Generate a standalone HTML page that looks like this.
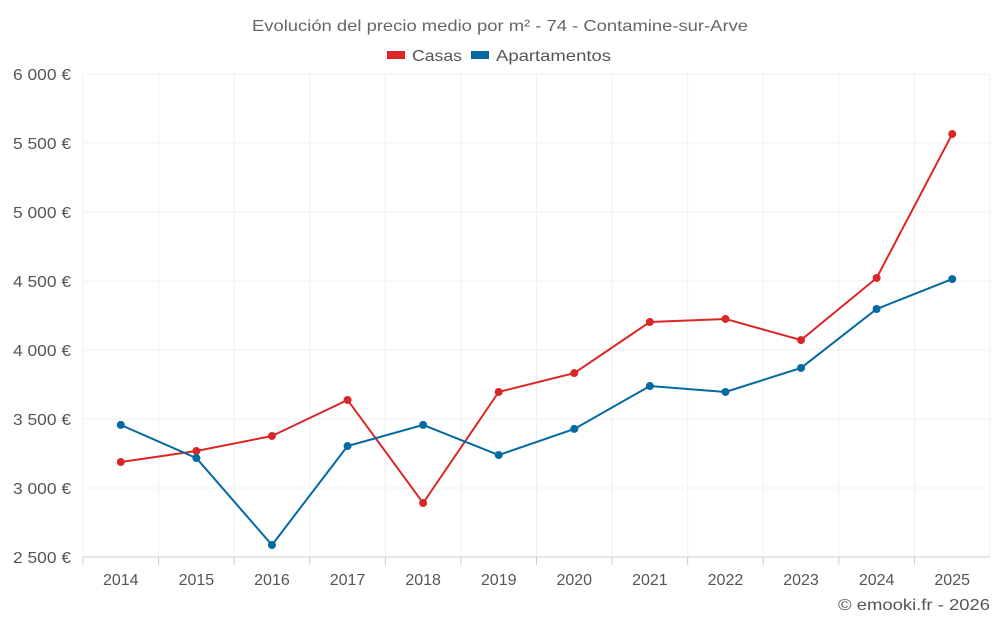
<!DOCTYPE html>
<html><head><meta charset="utf-8"><style>
html,body{margin:0;padding:0;background:#fff;}
svg{display:block;font-family:"Liberation Sans",sans-serif;}
</style></head><body>
<svg id="chart" width="1000" height="625">
<text x="252" y="31" textLength="496" lengthAdjust="spacingAndGlyphs" font-size="16" fill="#666">Evolución del precio medio por m² - 74 - Contamine-sur-Arve</text>
<g>
<g><rect x="387" y="51" width="18" height="8" fill="#dc2626"/><text x="412" y="61" textLength="50" lengthAdjust="spacingAndGlyphs" font-size="16" fill="#555">Casas</text></g>
<g><rect x="471" y="51" width="18" height="8" fill="#0369a1"/><text x="496" y="61" textLength="115" lengthAdjust="spacingAndGlyphs" font-size="16" fill="#555">Apartamentos</text></g>
</g>
<g id="grid"></g><g id="axes"></g><g id="series"></g>
<text x="838" y="610" textLength="152" lengthAdjust="spacingAndGlyphs" font-size="16" fill="#555">© emooki.fr - 2026</text>
</svg>
<script>
const years=[2014,2015,2016,2017,2018,2019,2020,2021,2022,2023,2024,2025];
const casas=[3188,3268,3377,3638,2891,3696,3833,4203,4225,4072,4522,5565];
const apartamentos=[3457,3217,2587,3304,3457,3239,3428,3739,3696,3870,4297,4514];
const yTicks=[2500,3000,3500,4000,4500,5000,5500,6000];
const yTickLabels=["2 500 €","3 000 €","3 500 €","4 000 €","4 500 €","5 000 €","5 500 €","6 000 €"];
const L=83,R=990,T=74,B=557,yMin=2500,yMax=6000;
const bw=(R-L)/years.length;
const x=i=>L+bw*(i+0.5);
const y=v=>B-(v-yMin)/(yMax-yMin)*(B-T);
const NS="http://www.w3.org/2000/svg";
function mk(tag,attrs,parent){const e=document.createElementNS(NS,tag);for(const k in attrs)e.setAttribute(k,attrs[k]);parent.appendChild(e);return e;}
const grid=document.getElementById('grid'),axes=document.getElementById('axes'),series=document.getElementById('series');
yTicks.forEach((v,i)=>{
 const l=mk('line',{x1:L,x2:R,y1:y(v),y2:y(v),stroke:'#f0f0f0'},grid);
 
 
 const t=mk('text',{x:71,y:y(v)+6,'text-anchor':'end','font-size':16,fill:'#555',textLength:58,lengthAdjust:'spacingAndGlyphs'},axes);
 t.textContent=yTickLabels[i];
 
 
});
for(let i=0;i<=years.length;i++){
 const l=mk('line',{x1:L+bw*i,x2:L+bw*i,y1:T,y2:B,stroke:'#f0f0f0'},grid);
 
 
}
const ax=mk('line',{x1:L,x2:R,y1:B,y2:B,stroke:'#ccc'},axes);


years.forEach((yr,i)=>{
 const tk=mk('line',{x1:L+bw*i,x2:L+bw*i,y1:B,y2:B+8,stroke:'#ccc'},axes);
 
 
 const t=mk('text',{x:x(i),y:585,'text-anchor':'middle','font-size':16,fill:'#555'},axes);
 t.textContent=yr;
 
 
});
function draw(vals,color,name){
 const p=mk('polyline',{points:vals.map((v,i)=>x(i)+','+y(v)).join(' '),fill:'none',stroke:color,'stroke-width':2},series);
 
 
 vals.forEach((v,i)=>{
  const c=mk('circle',{cx:x(i),cy:y(v),r:4,fill:color},series);
  
  
 });
}
draw(casas,'#dc2626','casas');
draw(apartamentos,'#0369a1','apartamentos');
</script>
</body></html>
